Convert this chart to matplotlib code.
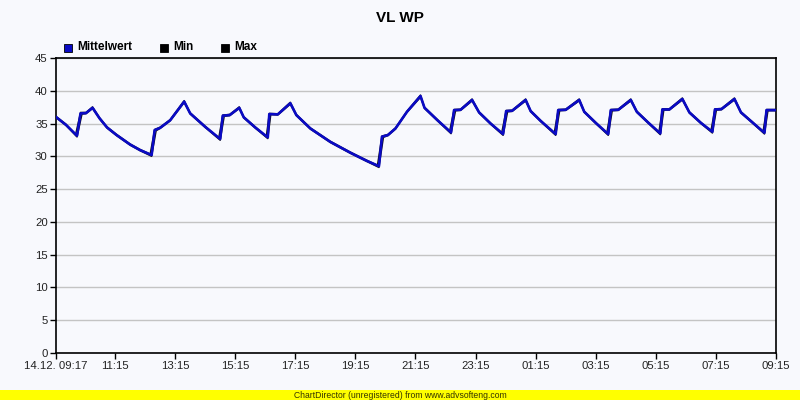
import matplotlib
matplotlib.use("Agg")
import matplotlib.pyplot as plt
from matplotlib.patches import Rectangle

# ---- data ----
title = "VL WP"
series_names = ["Mittelwert", "Min", "Max"]
# minutes since 14.12. 09:17
minutes = [0, 20, 42, 49, 60, 73, 87, 102, 121, 148, 168, 191, 197, 208, 228, 256,
           268, 298, 328, 333, 347, 366, 375, 398, 423, 426, 443, 468, 480, 508,
           548, 588, 621, 645, 651, 663, 678, 701, 728, 736, 762, 789, 795, 808,
           831, 845, 868, 893, 899, 911, 938, 948, 968, 998, 1003, 1018, 1045,
           1055, 1078, 1103, 1108, 1123, 1148, 1160, 1182, 1207, 1211, 1225, 1251,
           1265, 1288, 1311, 1316, 1329, 1355, 1368, 1392, 1415, 1419, 1438]
mean_vals = [36.0, 34.8, 33.15, 36.55, 36.6, 37.4, 35.8, 34.4, 33.25, 31.8, 30.95,
             30.2, 34.0, 34.35, 35.5, 38.35, 36.55, 34.5, 32.65, 36.2, 36.3, 37.4,
             35.95, 34.4, 32.9, 36.45, 36.4, 38.1, 36.3, 34.25, 32.2, 30.55, 29.3,
             28.5, 33.0, 33.25, 34.25, 36.8, 39.2, 37.4, 35.5, 33.65, 37.05, 37.1,
             38.6, 36.7, 35.0, 33.4, 36.9, 36.95, 38.6, 36.9, 35.4, 33.4, 37.05,
             37.1, 38.6, 36.8, 35.1, 33.4, 37.05, 37.1, 38.6, 36.8, 35.2, 33.5,
             37.15, 37.15, 38.75, 36.7, 35.1, 33.75, 37.15, 37.2, 38.75, 36.7,
             35.1, 33.6, 37.05, 37.05]
# Min series: the jump to the upper level happens a little later
min_minutes = [0, 20, 42, 52, 60, 73, 87, 102, 121, 148, 168, 191, 200, 208, 228, 256,
               268, 298, 328, 336, 347, 366, 375, 398, 423, 429, 443, 468, 480, 508,
               548, 588, 621, 645, 654, 663, 678, 701, 728, 736, 762, 789, 798, 808,
               831, 845, 868, 893, 902, 911, 938, 948, 968, 998, 1006, 1018, 1045,
               1055, 1078, 1103, 1111, 1123, 1148, 1160, 1182, 1207, 1214, 1225, 1251,
               1265, 1288, 1311, 1319, 1329, 1355, 1368, 1392, 1415, 1422, 1438]
min_vals = [35.9, 34.7, 32.95, 36.45, 36.5, 37.3, 35.7, 34.3, 33.15, 31.7, 30.85,
            30.0, 33.9, 34.25, 35.4, 38.2, 36.45, 34.4, 32.45, 36.1, 36.2, 37.3,
            35.85, 34.3, 32.7, 36.35, 36.3, 37.95, 36.2, 34.15, 32.1, 30.45, 29.2,
            28.3, 32.9, 33.15, 34.15, 36.7, 39.0, 37.3, 35.4, 33.45, 36.95, 37.0,
            38.45, 36.6, 34.9, 33.2, 36.8, 36.85, 38.45, 36.8, 35.3, 33.2, 36.95,
            37.0, 38.45, 36.7, 35.0, 33.2, 36.95, 37.0, 38.45, 36.7, 35.1, 33.3,
            37.05, 37.05, 38.6, 36.6, 35.0, 33.55, 37.05, 37.1, 38.6, 36.6,
            35.0, 33.4, 36.95, 36.95]
# Max series: the jump starts a little earlier
max_minutes = [0, 20, 39, 49, 60, 73, 87, 102, 121, 148, 168, 188, 197, 208, 228, 256,
               268, 298, 325, 333, 347, 366, 375, 398, 420, 426, 443, 468, 480, 508,
               548, 588, 621, 642, 651, 663, 678, 701, 728, 736, 762, 786, 795, 808,
               831, 845, 868, 890, 899, 911, 938, 948, 968, 995, 1003, 1018, 1045,
               1055, 1078, 1100, 1108, 1123, 1148, 1160, 1182, 1204, 1211, 1225, 1251,
               1265, 1288, 1308, 1316, 1329, 1355, 1368, 1392, 1412, 1419, 1438]
max_vals = [36.1, 34.9, 33.3, 36.7, 36.7, 37.55, 35.9, 34.5, 33.35, 31.9, 31.05,
            30.35, 34.1, 34.45, 35.6, 38.5, 36.65, 34.6, 32.8, 36.3, 36.4, 37.55,
            36.05, 34.5, 33.05, 36.55, 36.5, 38.25, 36.4, 34.35, 32.3, 30.65, 29.4,
            28.65, 33.1, 33.35, 34.35, 36.9, 39.35, 37.5, 35.6, 33.8, 37.15, 37.2,
            38.75, 36.8, 35.1, 33.55, 37.0, 37.05, 38.75, 37.0, 35.5, 33.55, 37.15,
            37.2, 38.75, 36.9, 35.2, 33.55, 37.15, 37.2, 38.75, 36.9, 35.3, 33.65,
            37.25, 37.25, 38.9, 36.8, 35.2, 33.9, 37.25, 37.3, 38.9, 36.8,
            35.2, 33.75, 37.15, 37.15]
x_tick_labels = ["14.12. 09:17", "11:15", "13:15", "15:15", "17:15", "19:15", "21:15",
                 "23:15", "01:15", "03:15", "05:15", "07:15", "09:15"]
y_ticks = [0, 5, 10, 15, 20, 25, 30, 35, 40, 45]
footer = "ChartDirector (unregistered) from www.advsofteng.com"

# ---- helpers ----
def label_minutes(lbl, start=9 * 60 + 17):
    hm = lbl.split()[-1]
    h, m = hm.split(":")
    t = int(h) * 60 + int(m) - start
    return t % (24 * 60)

x_tick_pos = [label_minutes(l) for l in x_tick_labels]

BG = "#f8f9fd"
BLUE = "#0a0ac4"
FONT = "Liberation Sans"

fig = plt.figure(figsize=(8, 4), dpi=100, facecolor=BG)
ax = fig.add_axes([56 / 800, 1 - 353 / 400, 720 / 800, 295 / 400])
ax.set_facecolor(BG)

ax.plot(min_minutes, min_vals, color="#111111", lw=1.0, zorder=2)
ax.plot(max_minutes, max_vals, color="#111111", lw=1.0, zorder=2)
ax.plot(minutes, mean_vals, color=BLUE, lw=1.9, zorder=3, solid_joinstyle="round")

ax.set_xlim(0, 1438)
ax.set_ylim(0, 45)
ax.set_yticks(y_ticks)
ax.set_yticklabels([str(v) for v in y_ticks], fontfamily=FONT, fontsize=8.2, color="#222222")
ax.set_xticks(x_tick_pos)
ax.set_xticklabels(x_tick_labels, fontfamily=FONT, fontsize=8.2, color="#222222")
ax.tick_params(axis="both", direction="out", length=4, width=1, color="black", pad=2)
ax.grid(axis="y", color="#c4c4c4", lw=1)
ax.set_axisbelow(True)
for s in ax.spines.values():
    s.set_color("black")
    s.set_linewidth(1.2)

fig.text(0.5, 1 - 18 / 400, title, ha="center", va="center", fontfamily=FONT,
         fontsize=11, fontweight="bold", color="black")

# legend
leg_items = [(64, BLUE, series_names[0]), (160, "black", series_names[1]),
             (221, "black", series_names[2])]
for x, c, name in leg_items:
    fig.patches.append(Rectangle((x / 800, 1 - 52 / 400), 8 / 800, 8 / 400,
                                 transform=fig.transFigure, facecolor=c,
                                 edgecolor="black", lw=0.6))
    fig.text((x + 13) / 800, 1 - 47.5 / 400, name, ha="left", va="center",
             fontfamily=FONT, fontsize=8.5, fontweight="bold", color="black")

# footer
fig.patches.append(Rectangle((0, 0), 1, 10 / 400, transform=fig.transFigure,
                             facecolor="#ffff00", edgecolor="none"))
fig.text(0.5, 5 / 400, footer, ha="center", va="center", fontfamily=FONT,
         fontsize=6.2, color="#333300")

fig.savefig("out.png", dpi=100, facecolor=BG)
